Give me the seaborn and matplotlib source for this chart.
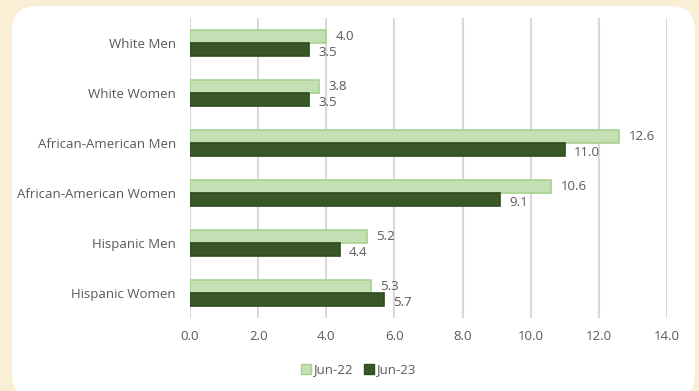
import numpy as np
import pandas as pd
import seaborn as sns
import matplotlib.pyplot as plt
from matplotlib.patches import FancyBboxPatch, Patch

groups = ["White Men", "White Women", "African-American Men",
          "African-American Women", "Hispanic Men", "Hispanic Women"]
jun22 = [4.0, 3.8, 12.6, 10.6, 5.2, 5.3]
jun23 = [3.5, 3.5, 11.0, 9.1, 4.4, 5.7]
series = ["Jun-22", "Jun-23"]

df = pd.DataFrame({"group": groups * 2,
                   "value": jun22 + jun23,
                   "series": ["Jun-22"] * 6 + ["Jun-23"] * 6})

sns.set_style("white")
plt.rcParams['font.family'] = ['Open Sans', 'DejaVu Sans']
txt = "#595959"
fs = 9.5

fig = plt.figure(figsize=(6.99, 3.91), dpi=100)
fig.patch.set_facecolor("#FAEED5")
panel = FancyBboxPatch((12 / 699, -0.02), 683 / 699, 0.992 + 0.02 - 3 / 391,
                       boxstyle="round,pad=0,rounding_size=0.035",
                       transform=fig.transFigure, facecolor="white",
                       edgecolor="none", zorder=-5, mutation_aspect=699 / 391)
fig.patches.append(panel)

ax = fig.add_axes([190 / 699, 1 - 318 / 391, 477 / 699, 300 / 391])
ax.set_facecolor("none")
ax.set_zorder(2)

pal = {"Jun-22": "#C5E0B4", "Jun-23": "#3A5728"}
sns.barplot(data=df, y="group", x="value", hue="series", order=groups,
            hue_order=series, palette=pal, orient="h", width=0.52,
            saturation=1, ax=ax, legend=False, zorder=3)

edges = ["#A9D18E", "#2F4A20"]
for cont, ec, dy in zip(ax.containers, edges, [0, 0.07]):
    for bar in cont:
        bar.set_edgecolor(ec)
        bar.set_linewidth(1.2)
        w = bar.get_width()
        yc = bar.get_y() + bar.get_height() / 2 + dy
        ax.text(w + 0.27, yc, f"{w:.1f}", va="center", ha="left",
                fontsize=fs, color=txt)

ax.set_xlim(0, 14)
ax.set_xticks(np.arange(0, 15, 2))
ax.set_xticklabels([f"{v:.1f}" for v in np.arange(0, 15, 2)])
ax.set_ylim(5.5, -0.5)
ax.grid(axis="x", color="#D9D9D9", linewidth=1.5, zorder=0)
ax.set_axisbelow(True)
for s in ax.spines.values():
    s.set_visible(False)
ax.tick_params(axis="both", length=0, labelsize=fs, labelcolor=txt)
ax.tick_params(axis="x", pad=9)
ax.tick_params(axis="y", pad=10)
ax.set_xlabel("")
ax.set_ylabel("")

handles = [Patch(facecolor=pal[s], edgecolor=e, label=s) for s, e in zip(series, edges)]
fig.legend(handles=handles, loc="center", bbox_to_anchor=(358 / 699, 1 - 370 / 391),
           ncol=2, frameon=False, fontsize=fs, labelcolor=txt,
           handlelength=0.75, handleheight=0.75, handletextpad=0.15, columnspacing=0.9)

fig.savefig("out.png", dpi=100)
